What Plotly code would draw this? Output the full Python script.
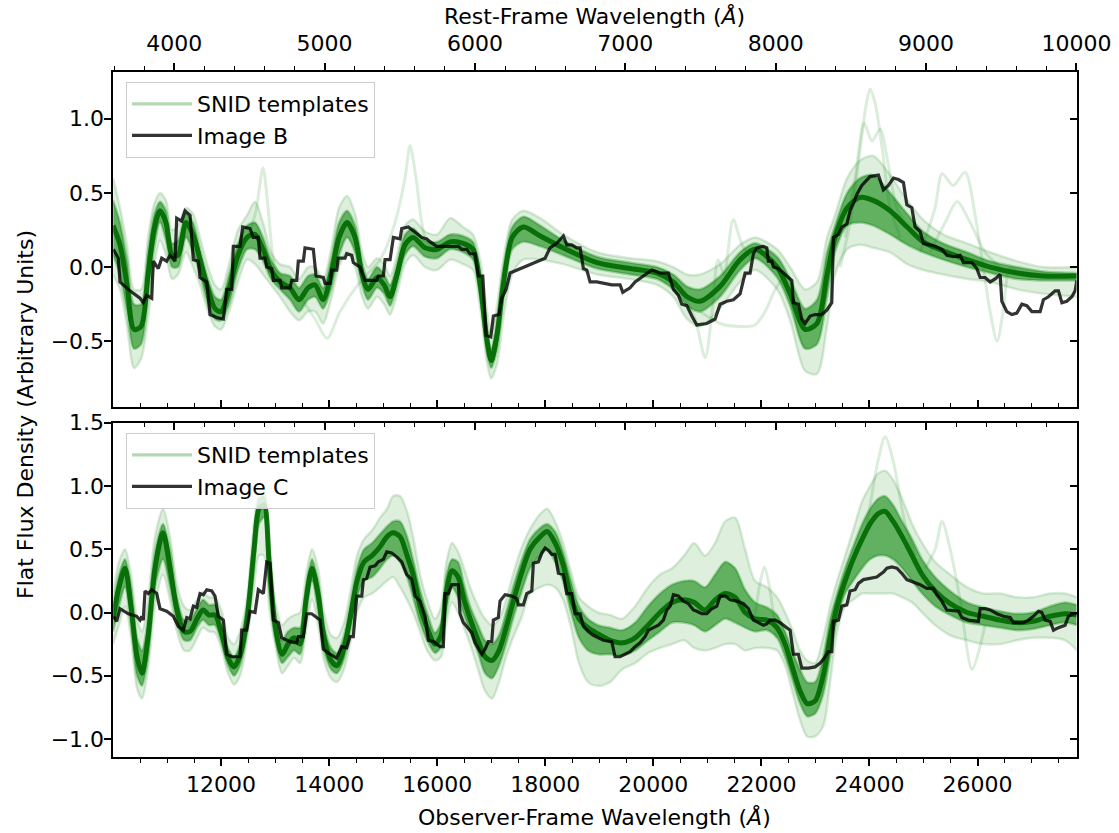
import plotly.graph_objects as go

Z = 1.783
REST_RANGE = [3595.0, 10000.4]
OBS_RANGE = [r * (1 + Z) for r in REST_RANGE]
YB_RANGE = [-0.941, 1.317]
YC_RANGE = [-1.140, 1.5005]

# ---------------- Image B (top panel) ----------------
b_wave = [10005, 10098, 10129, 10253, 10314, 10499, 10560, 10623, 10716, 10745, 10838, 10901, 10993, 11054,
          11147, 11178, 11271, 11332, 11425, 11486, 11578, 11610, 11734, 11795, 11919, 12041, 12104, 12197,
          12226, 12350, 12400, 12535, 12596, 12689, 12720, 12813, 12844, 12937, 12967, 13091, 13122, 13276,
          13307, 13400, 13429, 13522, 13553, 13707, 13757, 13892, 13924, 14016, 14048, 14140, 14170, 14294,
          14325, 14418, 14447, 14571, 14664, 14880, 14910, 15003, 15034, 15127, 15188, 15312, 15343, 15465,
          15621, 15714, 15806, 15870, 15991, 16391, 16454, 16546, 16608, 16700, 16761, 16843, 16904, 16991,
          17039, 17144, 17194, 17274, 17348, 17472, 17626, 17718, 17872, 17996, 18088, 18212, 18335, 18397,
          18490, 18583, 18644, 18705, 18768, 18829, 18953, 19075, 19230, 19384, 19434, 19569, 19662, 19815,
          19971, 20124, 20278, 20371, 20463, 20526, 20619, 20711, 20804, 20989, 21143, 21235, 21359, 21481,
          21605, 21698, 21790, 21851, 21914, 22037, 22099, 22129, 22192, 22222, 22314, 22377, 22469, 22562,
          22592, 22684, 22747, 22808, 22901, 22994, 23117, 23210, 23302, 23332, 23425, 23488, 23580, 23641,
          23702, 23765, 23858, 24011, 24165, 24258, 24350, 24443, 24535, 24628, 24691, 24783, 24844, 24937,
          24998, 25122, 25215, 25338, 25431, 25553, 25677, 25739, 25894, 25987, 26048, 26140, 26233, 26325,
          26418, 26449, 26542, 26634, 26727, 26820, 26912, 27005, 27158, 27219, 27312, 27436, 27497, 27560,
          27652, 27745, 27806, 27838]
b_flux = [0.12, 0.06, -0.10, -0.14, -0.16, -0.21, -0.24, -0.19, -0.21, 0.04, -0.01, 0.06, 0.04, 0.08,
          0.04, 0.33, 0.31, 0.38, 0.35, 0.05, 0.04, -0.07, -0.10, -0.32, -0.34, -0.35, -0.15, -0.15,
          0.14, 0.14, 0.27, 0.26, 0.20, 0.20, 0.06, 0.06, 0.00, -0.01, -0.09, -0.09, -0.14, -0.14,
          -0.09, -0.09, 0.04, 0.04, 0.13, 0.12, -0.06, -0.07, -0.11, -0.11, -0.02, -0.02, 0.06, 0.06,
          0.09, 0.08, 0.03, 0.00, -0.09, -0.09, -0.06, -0.06, 0.05, 0.05, 0.20, 0.19, 0.26, 0.27,
          0.23, 0.20, 0.19, 0.17, 0.14, 0.14, 0.12, 0.12, 0.09, 0.09, -0.06, -0.06, -0.46, -0.47,
          -0.33, -0.32, -0.21, -0.15, -0.04, -0.02, 0.00, 0.02, 0.04, 0.06, 0.13, 0.16, 0.21, 0.15,
          0.15, 0.13, 0.13, -0.01, -0.02, -0.10, -0.10, -0.11, -0.12, -0.12, -0.17, -0.14, -0.10, -0.06,
          -0.02, -0.04, -0.04, -0.15, -0.19, -0.25, -0.26, -0.33, -0.39, -0.38, -0.35, -0.25, -0.23, -0.22,
          -0.18, -0.04, -0.04, 0.09, 0.13, 0.14, 0.13, 0.04, 0.04, 0.00, -0.01, -0.03, -0.06, -0.09,
          -0.24, -0.25, -0.35, -0.38, -0.33, -0.32, -0.32, -0.29, -0.24, 0.20, 0.22, 0.27, 0.29, 0.38,
          0.43, 0.49, 0.55, 0.61, 0.62, 0.52, 0.55, 0.60, 0.59, 0.57, 0.42, 0.40, 0.27, 0.24,
          0.16, 0.15, 0.14, 0.12, 0.08, 0.07, 0.08, 0.03, 0.03, -0.01, -0.07, -0.07, -0.10, -0.08,
          -0.05, -0.23, -0.30, -0.32, -0.31, -0.25, -0.26, -0.30, -0.30, -0.22, -0.20, -0.16, -0.16, -0.24,
          -0.23, -0.20, -0.16, -0.09]

b_tpl_wave = [10000, 10129, 10259, 10388, 10518, 10647, 10758, 10869, 10980, 11092, 11203, 11351, 11480,
              11610, 11758, 11887, 11999, 12147, 12313, 12480, 12628, 12776, 12924, 13091, 13276, 13442,
              13609, 13739, 13887, 14035, 14183, 14331, 14479, 14609, 14720, 14886, 15016, 15127, 15256,
              15404, 15553, 15775, 15997, 16237, 16478, 16661, 16795, 16923, 16999, 17110, 17221, 17388,
              17592, 17907, 18329, 18958, 19569, 20069, 20368, 20624, 20865, 21235, 21605, 21883, 22290,
              22531, 22808, 23028, 23214, 23362, 23587, 23827, 24067, 24382, 24697, 24993, 25363, 25807,
              26233, 26732, 27214, 27840]
b_tpl_core = [0.28, 0.15, -0.12, -0.42, -0.40, -0.05, 0.25, 0.38, 0.30, 0.08, 0.08, 0.30, 0.22,
              0.05, -0.15, -0.28, -0.30, -0.15, 0.08, 0.20, 0.22, 0.12, -0.02, -0.10, -0.14, -0.22,
              -0.14, -0.12, -0.22, -0.05, 0.20, 0.30, 0.20, -0.05, -0.15, -0.07, -0.12, -0.20, -0.05,
              0.15, 0.20, 0.13, 0.12, 0.17, 0.16, 0.12, -0.12, -0.50, -0.63, -0.45, -0.12, 0.20,
              0.27, 0.21, 0.13, 0.03, -0.01, -0.04, -0.10, -0.20, -0.23, -0.13, 0.05, 0.12, 0.00,
              -0.18, -0.42, -0.38, -0.05, 0.20, 0.40, 0.47, 0.45, 0.38, 0.27, 0.17, 0.11, 0.05,
              0.00, -0.04, -0.06, -0.06]
b_tpl_in_lo = [0.08, -0.05, -0.30, -0.55, -0.52, -0.20, 0.12, 0.30, 0.18, 0.00, 0.00, 0.20, 0.10,
               -0.05, -0.25, -0.35, -0.36, -0.25, -0.02, 0.12, 0.12, 0.04, -0.08, -0.15, -0.22, -0.30,
               -0.22, -0.20, -0.28, -0.15, 0.08, 0.20, 0.10, -0.12, -0.22, -0.14, -0.18, -0.26, -0.12,
               0.08, 0.14, 0.07, 0.06, 0.12, 0.10, 0.05, -0.20, -0.58, -0.68, -0.55, -0.22, 0.12,
               0.17, 0.14, 0.08, -0.01, -0.05, -0.08, -0.15, -0.26, -0.30, -0.20, -0.02, 0.06, -0.07,
               -0.26, -0.55, -0.52, -0.20, 0.10, 0.28, 0.30, 0.28, 0.22, 0.15, 0.10, 0.05, 0.00,
               -0.04, -0.08, -0.09, -0.09]
b_tpl_in_hi = [0.45, 0.30, 0.05, -0.25, -0.25, 0.10, 0.35, 0.44, 0.38, 0.16, 0.18, 0.36, 0.30,
               0.12, -0.08, -0.20, -0.22, -0.05, 0.16, 0.28, 0.30, 0.20, 0.05, -0.04, -0.06, -0.14,
               -0.06, -0.05, -0.14, 0.05, 0.30, 0.38, 0.28, 0.03, -0.08, 0.00, -0.05, -0.12, 0.02,
               0.22, 0.26, 0.18, 0.17, 0.22, 0.21, 0.17, -0.05, -0.42, -0.55, -0.35, -0.02, 0.27,
               0.34, 0.28, 0.18, 0.07, 0.03, 0.00, -0.05, -0.13, -0.15, -0.06, 0.10, 0.16, 0.07,
               -0.08, -0.28, -0.22, 0.10, 0.28, 0.50, 0.60, 0.62, 0.50, 0.36, 0.24, 0.16, 0.10,
               0.04, 0.00, -0.03, -0.04]
b_tpl_out_lo = [-0.05, -0.15, -0.40, -0.68, -0.62, -0.35, 0.00, 0.18, 0.08, -0.08, -0.05, 0.10, 0.00,
                -0.12, -0.30, -0.40, -0.42, -0.30, -0.10, 0.05, 0.02, -0.05, -0.12, -0.20, -0.30, -0.36,
                -0.30, -0.30, -0.38, -0.22, 0.00, 0.10, 0.00, -0.20, -0.28, -0.20, -0.25, -0.32, -0.18,
                0.02, 0.08, 0.00, -0.02, 0.05, 0.02, -0.02, -0.28, -0.65, -0.75, -0.65, -0.35, -0.05,
                0.05, 0.05, 0.02, -0.05, -0.08, -0.12, -0.20, -0.35, -0.40, -0.28, -0.10, -0.02, -0.15,
                -0.36, -0.70, -0.72, -0.40, -0.05, 0.12, 0.15, 0.13, 0.10, 0.02, -0.02, -0.05, -0.08,
                -0.10, -0.15, -0.18, -0.20]
b_tpl_out_hi = [0.60, 0.40, 0.15, -0.15, -0.15, 0.20, 0.42, 0.50, 0.45, 0.25, 0.28, 0.40, 0.36,
                0.20, 0.00, -0.12, -0.15, 0.02, 0.25, 0.35, 0.44, 0.30, 0.10, 0.02, 0.00, -0.08,
                0.00, 0.00, -0.08, 0.12, 0.40, 0.48, 0.36, 0.10, 0.00, 0.06, 0.02, -0.06, 0.08,
                0.28, 0.32, 0.24, 0.22, 0.33, 0.27, 0.22, 0.05, -0.30, -0.45, -0.25, 0.05, 0.32,
                0.38, 0.33, 0.22, 0.10, 0.06, 0.04, 0.00, -0.05, -0.05, 0.02, 0.15, 0.20, 0.12,
                0.00, -0.15, -0.10, 0.20, 0.35, 0.60, 0.72, 0.75, 0.62, 0.45, 0.32, 0.22, 0.16,
                0.10, 0.04, 0.00, 0.00]

# individual outlying SNID templates (top panel)
b_out_waves = [
    [13461, 13739, 13961, 14201, 14571, 14942, 15219, 15404, 15497, 15608, 15775, 15997],
    [12498, 12646, 12776, 12869, 12998, 13183],
    [20498, 20772, 20958, 21087, 21198, 21309, 21476, 21642, 21828],
    [20865, 21235, 21605, 21883, 22068, 22256, 22441],
    [23459, 23641, 23830, 23940, 24011, 24107, 24235, 24383, 24570],
    [23549, 23734, 23900, 24048, 24196, 24344, 24504, 24745],
    [24940, 25215, 25344, 25548, 25770, 25955, 26103, 26233, 26362, 26473, 26603, 26788],
    [25122, 25400, 25622, 25863, 26140, 26418],
]
b_out_fluxes = [
    [-0.20, -0.35, -0.48, -0.30, -0.10, 0.05, 0.30, 0.60, 0.82, 0.60, 0.20, 0.10],
    [0.20, 0.38, 0.67, 0.40, 0.00, -0.10],
    [-0.15, -0.35, -0.61, -0.30, 0.05, -0.05, 0.32, 0.15, 0.05],
    [-0.30, -0.38, -0.40, -0.39, -0.30, -0.15, -0.05],
    [0.00, 0.30, 0.80, 1.10, 1.20, 1.10, 0.80, 0.40, 0.20],
    [0.20, 0.60, 0.97, 0.85, 0.93, 0.70, 0.40, 0.25],
    [0.10, 0.40, 0.63, 0.55, 0.64, 0.35, 0.00, -0.30, -0.50, -0.30, 0.00, -0.05],
    [0.10, 0.30, 0.44, 0.30, 0.10, 0.00],
]

# ---------------- Image C (bottom panel) ----------------
c_wave = [10005, 10068, 10129, 10222, 10283, 10438, 10499, 10531, 10560, 10592, 10653, 10716, 10808, 10869,
          10993, 11116, 11208, 11301, 11364, 11425, 11486, 11549, 11610, 11671, 11734, 11827, 11887, 11949,
          12041, 12104, 12197, 12350, 12382, 12474, 12535, 12628, 12689, 12782, 12844, 12905, 12967, 13059,
          13122, 13276, 13400, 13429, 13522, 13585, 13677, 13738, 13831, 13892, 14016, 14140, 14233, 14325,
          14386, 14447, 14510, 14603, 14633, 14695, 14757, 14849, 14910, 15003, 15066, 15158, 15251, 15343,
          15436, 15528, 15590, 15682, 15775, 15836, 15928, 16052, 16113, 16144, 16206, 16269, 16391, 16422,
          16484, 16546, 16639, 16700, 16761, 16824, 16885, 16946, 17009, 17039, 17131, 17162, 17255, 17379,
          17472, 17502, 17594, 17657, 17750, 17779, 17872, 17935, 17996, 18057, 18120, 18181, 18242, 18335,
          18397, 18490, 18551, 18644, 18705, 18797, 18890, 18982, 19075, 19230, 19291, 19384, 19476, 19569,
          19662, 19754, 19847, 19908, 20000, 20093, 20186, 20249, 20310, 20371, 20463, 20556, 20649, 20741,
          20804, 20896, 20989, 21082, 21174, 21235, 21328, 21423, 21544, 21666, 21759, 21851, 21944, 22037,
          22099, 22160, 22253, 22346, 22469, 22531, 22592, 22684, 22747, 22870, 22994, 23087, 23147, 23240,
          23302, 23332, 23425, 23488, 23580, 23641, 23734, 23795, 23888, 24011, 24135, 24196, 24258, 24321,
          24413, 24506, 24598, 24691, 24813, 24937, 25061, 25183, 25246, 25338, 25431, 25646, 25709, 25831,
          26016, 26048, 26140, 26233, 26357, 26479, 26603, 26664, 26849, 26942, 27034, 27127, 27190, 27251,
          27344, 27405, 27497, 27621, 27682, 27775, 27838]
c_flux = [-0.03, -0.07, 0.03, 0.01, -0.01, -0.03, -0.06, -0.03, -0.06, 0.17, 0.15, 0.18, 0.15, 0.03,
          0.01, -0.03, -0.11, -0.14, -0.04, -0.05, 0.05, 0.04, 0.15, 0.14, 0.18, 0.17, 0.13, -0.03,
          -0.06, -0.33, -0.35, -0.35, -0.14, -0.14, 0.01, 0.00, 0.18, 0.15, 0.40, 0.39, -0.06, -0.08,
          -0.20, -0.23, -0.24, -0.19, -0.19, -0.01, -0.01, -0.03, -0.06, -0.29, -0.33, -0.36, -0.27, -0.28,
          -0.19, -0.19, 0.13, 0.13, 0.26, 0.27, 0.36, 0.37, 0.40, 0.42, 0.48, 0.47, 0.44, 0.40,
          0.30, 0.26, 0.13, 0.09, -0.03, -0.22, -0.23, -0.27, -0.27, 0.15, 0.15, 0.22, 0.22, -0.01,
          -0.08, -0.11, -0.16, -0.24, -0.29, -0.33, -0.29, -0.23, -0.23, -0.06, -0.04, 0.09, 0.14, 0.13,
          0.11, 0.06, 0.06, 0.15, 0.17, 0.39, 0.40, 0.47, 0.51, 0.49, 0.46, 0.46, 0.31, 0.30,
          0.15, 0.15, -0.01, -0.01, -0.11, -0.15, -0.18, -0.20, -0.22, -0.23, -0.35, -0.35, -0.33, -0.31,
          -0.27, -0.24, -0.19, -0.14, -0.12, -0.10, -0.06, 0.02, 0.05, 0.14, 0.13, 0.09, 0.07, 0.02,
          0.01, -0.01, -0.01, 0.03, 0.05, 0.13, 0.13, 0.10, 0.09, 0.07, 0.03, -0.06, -0.08, -0.10,
          -0.09, -0.06, -0.06, -0.08, -0.12, -0.14, -0.33, -0.33, -0.44, -0.44, -0.43, -0.40, -0.37, -0.31,
          -0.31, -0.07, -0.06, 0.05, 0.06, 0.17, 0.18, 0.23, 0.26, 0.27, 0.28, 0.30, 0.32, 0.35,
          0.36, 0.35, 0.31, 0.26, 0.24, 0.22, 0.19, 0.19, 0.14, 0.09, 0.02, 0.01, -0.04, -0.06,
          -0.07, 0.03, 0.03, 0.02, -0.01, -0.03, -0.04, -0.08, -0.08, -0.06, -0.03, 0.01, 0.00, -0.06,
          -0.07, -0.14, -0.12, -0.10, -0.03, -0.01, -0.01]

c_tpl_wave = [10000, 10110, 10222, 10333, 10444, 10536, 10647, 10777, 10925, 11054, 11184, 11314, 11425,
              11554, 11665, 11776, 11887, 12017, 12128, 12239, 12350, 12480, 12610, 12702, 12795, 12887,
              12998, 13128, 13239, 13350, 13461, 13572, 13683, 13794, 13905, 14035, 14146, 14275, 14386,
              14516, 14646, 14794, 14942, 15071, 15182, 15312, 15441, 15552, 15682, 15812, 15959, 16071,
              16163, 16274, 16385, 16496, 16608, 16756, 16885, 17014, 17144, 17274, 17403, 17551, 17718,
              17907, 18035, 18181, 18329, 18477, 18623, 18790, 18977, 19199, 19421, 19662, 19902, 20124,
              20347, 20569, 20754, 20958, 21143, 21328, 21513, 21698, 21883, 22105, 22290, 22438, 22586,
              22715, 22845, 22993, 23142, 23272, 23401, 23549, 23697, 23864, 24011, 24159, 24289, 24437,
              24604, 24789, 24974, 25215, 25493, 25807, 26103, 26418, 26732, 27027, 27344, 27621, 27840]
c_tpl_core = [-0.05, 0.20, 0.35, 0.05, -0.35, -0.48, -0.20, 0.35, 0.63, 0.35, 0.02, -0.15, -0.15,
              -0.05, 0.02, -0.02, -0.02, -0.18, -0.36, -0.43, -0.34, -0.05, 0.50, 0.82, 0.85, 0.40,
              -0.10, -0.33, -0.25, -0.20, -0.25, 0.10, 0.35, 0.15, -0.20, -0.38, -0.42, -0.28, -0.05,
              0.25, 0.40, 0.45, 0.52, 0.60, 0.63, 0.60, 0.45, 0.30, 0.05, -0.12, -0.25, -0.18,
              0.15, 0.33, 0.28, 0.10, -0.05, -0.22, -0.35, -0.38, -0.30, -0.12, 0.08, 0.30, 0.50,
              0.60, 0.64, 0.55, 0.38, 0.12, -0.05, -0.12, -0.17, -0.22, -0.24, -0.20, -0.10, 0.00,
              0.08, 0.10, 0.08, 0.02, 0.10, 0.15, 0.12, 0.00, -0.05, -0.06, -0.12, -0.25, -0.45,
              -0.62, -0.72, -0.70, -0.50, -0.20, 0.05, 0.25, 0.42, 0.58, 0.70, 0.78, 0.80, 0.72,
              0.60, 0.45, 0.30, 0.17, 0.07, 0.00, -0.03, -0.06, -0.08, -0.07, -0.03, -0.01, -0.02]
c_tpl_in_lo = [-0.15, 0.05, 0.20, -0.10, -0.50, -0.58, -0.35, 0.20, 0.42, 0.20, -0.08, -0.22, -0.22,
               -0.12, -0.06, -0.10, -0.10, -0.25, -0.42, -0.50, -0.42, -0.15, 0.35, 0.70, 0.75, 0.20,
               -0.20, -0.40, -0.35, -0.30, -0.33, -0.02, 0.25, 0.02, -0.30, -0.45, -0.48, -0.37, -0.15,
               0.12, 0.25, 0.28, 0.35, 0.42, 0.45, 0.40, 0.28, 0.12, -0.08, -0.22, -0.32, -0.27,
               0.00, 0.20, 0.12, -0.02, -0.15, -0.32, -0.48, -0.52, -0.42, -0.25, -0.05, 0.15, 0.35,
               0.45, 0.50, 0.40, 0.25, 0.00, -0.20, -0.30, -0.33, -0.33, -0.34, -0.30, -0.22, -0.15,
               -0.08, -0.08, -0.10, -0.15, -0.10, -0.05, -0.08, -0.12, -0.15, -0.14, -0.20, -0.35, -0.55,
               -0.72, -0.82, -0.80, -0.65, -0.35, -0.05, 0.15, 0.25, 0.35, 0.42, 0.45, 0.45, 0.42,
               0.35, 0.25, 0.15, 0.05, -0.02, -0.08, -0.10, -0.12, -0.14, -0.13, -0.10, -0.08, -0.10]
c_tpl_in_hi = [0.05, 0.30, 0.42, 0.20, -0.20, -0.30, -0.05, 0.48, 0.70, 0.50, 0.12, -0.06, -0.06,
               0.03, 0.10, 0.06, 0.06, -0.10, -0.28, -0.35, -0.25, 0.05, 0.62, 0.90, 0.92, 0.55,
               0.00, -0.22, -0.15, -0.12, -0.12, 0.20, 0.42, 0.25, -0.10, -0.28, -0.32, -0.18, 0.05,
               0.35, 0.50, 0.55, 0.62, 0.68, 0.72, 0.72, 0.60, 0.42, 0.18, 0.00, -0.16, -0.08,
               0.28, 0.42, 0.40, 0.22, 0.05, -0.10, -0.22, -0.25, -0.18, 0.00, 0.20, 0.40, 0.58,
               0.67, 0.70, 0.64, 0.48, 0.25, 0.05, -0.05, -0.10, -0.12, -0.14, -0.08, 0.05, 0.15,
               0.22, 0.25, 0.25, 0.20, 0.30, 0.40, 0.35, 0.18, 0.08, 0.04, -0.02, -0.15, -0.32,
               -0.45, -0.55, -0.55, -0.35, -0.05, 0.15, 0.35, 0.52, 0.70, 0.82, 0.90, 0.92, 0.85,
               0.72, 0.58, 0.42, 0.28, 0.17, 0.08, 0.04, 0.01, -0.01, 0.00, 0.05, 0.08, 0.06]
c_tpl_out_lo = [-0.25, -0.10, 0.05, -0.20, -0.60, -0.68, -0.45, 0.05, 0.30, 0.10, -0.15, -0.30, -0.30,
                -0.20, -0.12, -0.15, -0.16, -0.30, -0.48, -0.57, -0.50, -0.22, 0.20, 0.45, 0.45, 0.05,
                -0.25, -0.48, -0.42, -0.36, -0.40, -0.15, 0.10, -0.10, -0.38, -0.52, -0.55, -0.45, -0.25,
                0.00, 0.12, 0.15, 0.20, 0.25, 0.28, 0.20, 0.10, 0.00, -0.15, -0.30, -0.38, -0.35,
                -0.10, 0.08, 0.00, -0.12, -0.25, -0.45, -0.62, -0.68, -0.55, -0.35, -0.20, -0.05, 0.15,
                0.20, 0.22, 0.20, 0.10, -0.12, -0.40, -0.55, -0.58, -0.55, -0.45, -0.40, -0.32, -0.28,
                -0.25, -0.22, -0.28, -0.30, -0.28, -0.25, -0.25, -0.30, -0.28, -0.28, -0.30, -0.42, -0.65,
                -0.85, -0.98, -0.98, -0.90, -0.55, -0.15, 0.05, 0.10, 0.15, 0.15, 0.15, 0.15, 0.15,
                0.12, 0.08, 0.00, -0.10, -0.18, -0.22, -0.25, -0.25, -0.22, -0.20, -0.20, -0.22, -0.30]
c_tpl_out_hi = [0.15, 0.40, 0.50, 0.30, -0.05, -0.15, 0.10, 0.60, 0.82, 0.60, 0.22, 0.05, 0.02,
                0.10, 0.16, 0.12, 0.12, 0.00, -0.20, -0.25, -0.15, 0.12, 0.72, 0.95, 0.98, 0.65,
                0.10, -0.10, -0.05, -0.02, 0.00, 0.30, 0.50, 0.35, 0.00, -0.18, -0.20, -0.08, 0.15,
                0.45, 0.58, 0.65, 0.75, 0.82, 0.92, 0.92, 0.80, 0.60, 0.30, 0.10, -0.05, 0.05,
                0.38, 0.55, 0.48, 0.35, 0.20, 0.05, -0.05, -0.10, -0.05, 0.10, 0.30, 0.50, 0.66,
                0.78, 0.82, 0.72, 0.55, 0.32, 0.12, 0.05, 0.00, -0.02, -0.05, 0.05, 0.20, 0.30,
                0.35, 0.45, 0.55, 0.45, 0.55, 0.72, 0.75, 0.50, 0.25, 0.20, 0.12, 0.00, -0.15,
                -0.30, -0.38, -0.40, -0.20, 0.05, 0.25, 0.45, 0.65, 0.88, 1.00, 1.10, 1.12, 1.05,
                0.90, 0.70, 0.55, 0.40, 0.30, 0.20, 0.15, 0.15, 0.12, 0.12, 0.15, 0.15, 0.12]

c_out_waves = [
    [23919, 24159, 24289, 24437, 24659, 24844],
    [21871, 21982, 22056, 22149, 22278],
    [25033, 25215, 25344, 25493, 25677, 25899, 26140],
]
c_out_fluxes = [
    [0.60, 1.20, 1.39, 1.20, 0.70, 0.45],
    [-0.05, 0.25, 0.36, 0.20, -0.20],
    [0.35, 0.50, 0.72, 0.50, 0.10, -0.45, -0.10],
]

FONT = "DejaVu Sans"
FS = 22
GREEN_LIGHT = "rgba(0,128,0,0.13)"
GREEN_EDGE = "rgba(0,128,0,0.15)"
GREEN_IN = "rgba(0,128,0,0.56)"
GREEN_CORE = "rgba(0,105,0,0.9)"
BLACK_LINE = "rgba(0,0,0,0.8)"

fig = go.Figure()


def spline_line(color, width):
    return dict(color=color, width=width, shape="spline", smoothing=0.8)


def add_panel(xa, ya, legend, wave, core, in_lo, in_hi, out_lo, out_hi, out_w, out_f, bw, bf, name):
    # outer envelope of templates
    fig.add_trace(go.Scatter(x=wave, y=out_lo, xaxis=xa, yaxis=ya, mode="lines",
                             line=spline_line(GREEN_EDGE, 2.5), hoverinfo="skip", showlegend=False))
    fig.add_trace(go.Scatter(x=wave, y=out_hi, xaxis=xa, yaxis=ya, mode="lines", fill="tonexty",
                             fillcolor=GREEN_LIGHT, line=spline_line(GREEN_EDGE, 2.5),
                             hoverinfo="skip", showlegend=False))
    # inner dense bundle
    fig.add_trace(go.Scatter(x=wave, y=in_lo, xaxis=xa, yaxis=ya, mode="lines",
                             line=spline_line("rgba(0,128,0,0.3)", 2.5), hoverinfo="skip", showlegend=False))
    fig.add_trace(go.Scatter(x=wave, y=in_hi, xaxis=xa, yaxis=ya, mode="lines", fill="tonexty",
                             fillcolor=GREEN_IN, line=spline_line("rgba(0,128,0,0.3)", 2.5),
                             hoverinfo="skip", showlegend=False))
    # individual outlying templates
    for w, f in zip(out_w, out_f):
        fig.add_trace(go.Scatter(x=w, y=f, xaxis=xa, yaxis=ya, mode="lines",
                                 line=spline_line("rgba(0,128,0,0.14)", 3), hoverinfo="skip",
                                 showlegend=False))
    fig.add_trace(go.Scatter(x=wave, y=core, xaxis=xa, yaxis=ya, mode="lines",
                             line=spline_line(GREEN_CORE, 5), hoverinfo="skip", showlegend=False))
    # legend handle for the templates
    fig.add_trace(go.Scatter(x=[None], y=[None], xaxis=xa, yaxis=ya, mode="lines",
                             line=dict(color="rgba(0,128,0,0.3)", width=3.2), name="SNID templates",
                             legend=legend, legendgroup=legend + "a"))
    fig.add_trace(go.Scatter(x=bw, y=bf, xaxis=xa, yaxis=ya, mode="lines",
                             line=dict(color=BLACK_LINE, width=3.2), name=name,
                             legend=legend, legendgroup=legend + "b"))


add_panel("x", "y", "legend", b_tpl_wave, b_tpl_core, b_tpl_in_lo, b_tpl_in_hi, b_tpl_out_lo,
          b_tpl_out_hi, b_out_waves, b_out_fluxes, b_wave, b_flux, "Image B")
add_panel("x2", "y2", "legend2", c_tpl_wave, c_tpl_core, c_tpl_in_lo, c_tpl_in_hi, c_tpl_out_lo,
          c_tpl_out_hi, c_out_waves, c_out_fluxes, c_wave, c_flux, "Image C")

# helper traces so the secondary (twin) axes are drawn
for xa, ya in [("x3", "y"), ("x4", "y2"), ("x", "y3"), ("x2", "y4")]:
    fig.add_trace(go.Scatter(x=[None], y=[None], xaxis=xa, yaxis=ya, mode="lines",
                             showlegend=False, hoverinfo="skip"))

XD = [113.3 / 1119, 1076.5 / 1119]
YD_TOP = [1 - 406.7 / 833, 1 - 71.7 / 833]
YD_BOT = [1 - 756.7 / 833, 1 - 422.7 / 833]

tickfont = dict(family=FONT, size=FS, color="black")
common = dict(showgrid=False, zeroline=False, showline=True, linecolor="black", linewidth=1.7,
              tickcolor="black", tickwidth=1.6, ticklen=7, tickfont=tickfont, automargin=False)


def minor(d, where):
    return dict(dtick=d, tick0=0, ticks=where, ticklen=4, tickwidth=1.3, tickcolor="black", showgrid=False)


fig.update_layout(
    template="none",
    width=1119, height=833, margin=dict(l=0, r=0, t=0, b=0, pad=0),
    paper_bgcolor="white", plot_bgcolor="white",
    font=dict(family=FONT, size=FS, color="black"),
    xaxis=dict(domain=XD, anchor="y", range=OBS_RANGE, ticks="inside", dtick=2000, tick0=0,
               showticklabels=False, minor=minor(500, "inside"), **common),
    xaxis2=dict(domain=XD, anchor="y2", range=OBS_RANGE, ticks="outside", dtick=2000, tick0=0,
                tickformat="d", showticklabels=True, minor=minor(500, "outside"), **common),
    xaxis3=dict(overlaying="x", anchor="y", side="top", range=REST_RANGE, ticks="outside", dtick=1000,
                tick0=0, tickformat="d", showticklabels=True, ticklabelstandoff=3,
                minor=minor(200, "outside"), **common),
    xaxis4=dict(overlaying="x2", anchor="y2", side="top", range=REST_RANGE, ticks="inside", dtick=1000,
                tick0=0, showticklabels=False, minor=minor(200, "inside"), **common),
    yaxis=dict(domain=YD_TOP, anchor="x", range=YB_RANGE, ticks="outside", dtick=0.5, tick0=0,
               tickformat=".1f", ticklabelstandoff=-4, **common),
    yaxis3=dict(overlaying="y", anchor="x", side="right", range=YB_RANGE, ticks="inside", dtick=0.5,
                tick0=0, showticklabels=False, **common),
    yaxis2=dict(domain=YD_BOT, anchor="x2", range=YC_RANGE, ticks="outside", dtick=0.5, tick0=0,
                tickformat=".1f", ticklabelstandoff=-4, **common),
    yaxis4=dict(overlaying="y2", anchor="x2", side="right", range=YC_RANGE, ticks="inside", dtick=0.5,
                tick0=0, showticklabels=False, **common),
    legend=dict(x=126 / 1119, y=1 - 82 / 833, xanchor="left", yanchor="top",
                bgcolor="rgba(255,255,255,0.8)", bordercolor="#cccccc", borderwidth=1,
                font=dict(family=FONT, size=FS), tracegroupgap=0, itemwidth=60),
    legend2=dict(x=126 / 1119, y=1 - 433 / 833, xanchor="left", yanchor="top",
                 bgcolor="rgba(255,255,255,0.8)", bordercolor="#cccccc", borderwidth=1,
                 font=dict(family=FONT, size=FS), tracegroupgap=0, itemwidth=60),
    annotations=[
        dict(text="Rest-Frame Wavelength (<i>Å</i>)", xref="paper", yref="paper",
             x=(XD[0] + XD[1]) / 2, y=1 - 16 / 833, xanchor="center", yanchor="middle",
             showarrow=False, font=dict(family=FONT, size=FS)),
        dict(text="Observer-Frame Wavelength (<i>Å</i>)", xref="paper", yref="paper",
             x=(XD[0] + XD[1]) / 2, y=1 - 817 / 833, xanchor="center", yanchor="middle",
             showarrow=False, font=dict(family=FONT, size=FS)),
        dict(text="Flat Flux Density (Arbitrary Units)", xref="paper", yref="paper",
             x=25 / 1119, y=1 - 415 / 833, xanchor="center", yanchor="middle", textangle=-90,
             showarrow=False, font=dict(family=FONT, size=FS)),
    ],
)

fig.write_html("out.html", config={"displayModeBar": False},
               post_script="document.body.style.margin='0px';")
